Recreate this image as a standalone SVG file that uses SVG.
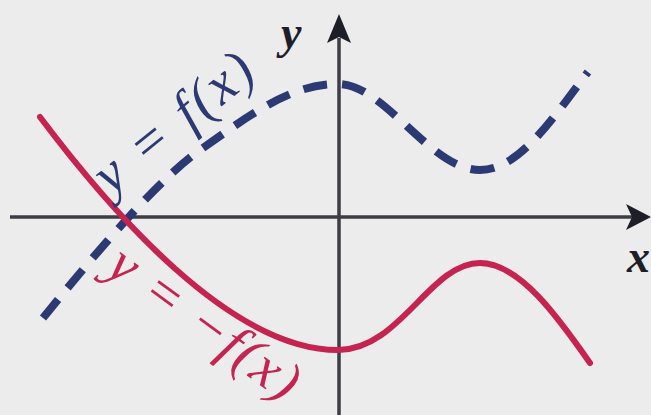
<svg xmlns="http://www.w3.org/2000/svg" width="651" height="415" viewBox="0 0 651 415">
<defs>
<style>
.axis{stroke:#3d3d45;stroke-width:3.5;fill:none}
.head{fill:#1e1e28}
.blue{stroke:#2c3a74;stroke-width:8;fill:none;stroke-dasharray:24 15;stroke-linecap:butt}
.red{stroke:#c4244f;stroke-width:6;fill:none;stroke-linecap:round}
.lbl{font-family:"Liberation Serif",serif;font-style:italic}
</style>
</defs>
<rect width="651" height="415" fill="#ececec"/>
<g id="axes">
<line class="axis" x1="10" y1="217" x2="632" y2="217"/>
<polygon class="head" points="651,217 626,204 632,217 626,230"/>
<line class="axis" x1="339" y1="415" x2="339" y2="38"/>
<polygon class="head" points="339,14 327,43 339,37 351,43"/>
<text class="lbl" x="281" y="48" font-size="46" font-weight="bold" fill="#1e1e28">y</text>
<text class="lbl" x="627" y="272" font-size="46" font-weight="bold" fill="#1e1e28">x</text>
</g>
<g id="connectors">
<path id="fcurve" class="blue" d="M43,318 C70,285 150,185 200,150 C250,115 290,84 338,84 C385,84 430,170 480,170 C520,170 555,115 588,72"/>
<path id="negfcurve" class="red" d="M40,117 C110,210 230,350 338,350 C400,350 430,263 480,263 C520,263 560,320 590,363"/>
</g>
<g id="label-f">
<text class="lbl" font-size="56" letter-spacing="3" fill="#2c3a74" transform="translate(111,196) rotate(-39)">y = f(x)</text>
</g>
<g id="label-negf">
<text class="lbl" font-size="56" letter-spacing="2" fill="#c4244f" transform="translate(104,272) rotate(36)">y = −f(x)</text>
</g>
</svg>
